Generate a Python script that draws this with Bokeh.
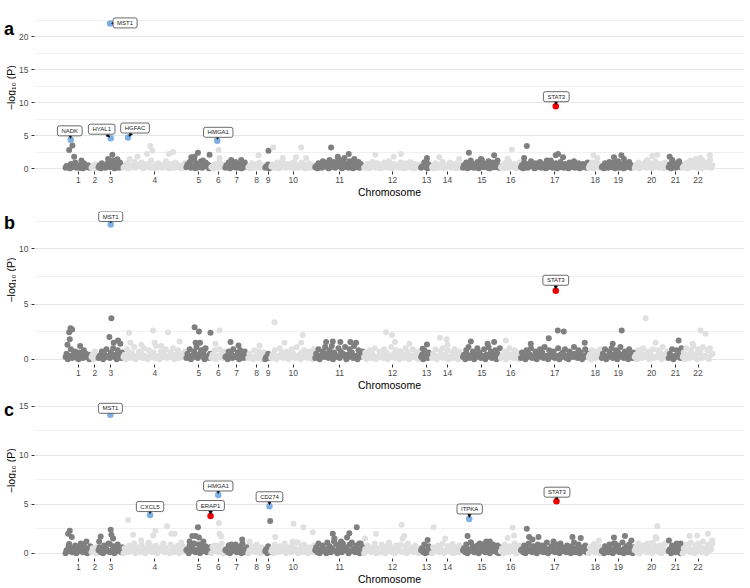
import math
import numpy as np
from bokeh.plotting import figure
from bokeh.models import (Range1d, FixedTicker, SingleIntervalTicker, Label, Arrow,
                          NormalHead, ColumnDataSource)
from bokeh.core.properties import value
from bokeh.layouts import column, row
from bokeh.embed import file_html
from bokeh.resources import INLINE

FONT = "Liberation Sans"
DARK = "#7f7f7f"
LIGHT = "#e0e0e0"
HIT_COLORS = {"reported": "#7eb0e3", "novel": "#f20000"}

# ---------------- data ----------------
chrom_names = [str(i) for i in range(1, 23)]
# relative genomic span of each chromosome (arbitrary cumulative units)
chrom_len = [26, 7, 25, 63, 25, 14, 23, 17, 6, 44, 49, 57, 11, 31, 38, 20, 68, 13, 33, 34, 14, 31]

# background -log10(P) values along each chromosome, panel a (upper and lower rows)
a_band = [
    [0.4, 0.2, 0.7, 0.3, 0.9, 0.5, 0.1, 0.6, 0.8, 0.3, 0.5, 0.2],
    [0.3, 0.6, 0.2],
    [0.5, 0.8, 0.3, 0.6, 1.0, 0.4, 1.2, 0.7, 0.2, 0.9, 0.4],
    [0.3, 0.8, 0.5, 0.2, 1.0, 0.6, 0.4, 0.9, 0.1, 0.7, 0.5, 1.2, 0.3, 0.6, 0.8, 0.2, 0.5, 1.1, 0.4, 0.7, 0.3, 0.9, 0.6, 0.2, 0.5, 0.8],
    [0.6, 1.0, 0.4, 1.3, 0.8, 0.5, 1.1, 0.3, 0.9, 0.6, 0.4],
    [0.3, 0.7, 0.5, 1.0, 0.4, 0.6],
    [0.5, 0.9, 0.3, 0.7, 1.0, 0.4, 0.8, 0.6, 0.9, 0.3],
    [0.4, 0.8, 0.3, 0.6, 0.9, 0.2, 0.5],
    [0.3, 0.6, 0.4],
    [0.6, 0.3, 0.9, 0.5, 1.1, 0.4, 0.7, 0.2, 0.8, 1.0, 0.5, 0.3, 0.9, 0.6, 0.4, 0.8, 0.2, 0.5],
    [0.4, 0.8, 0.6, 1.1, 0.3, 0.9, 1.3, 0.5, 1.0, 0.7, 1.4, 0.6, 1.2, 0.8, 0.4, 1.1, 0.9, 1.3, 0.5, 1.0, 0.7, 0.3],
    [0.3, 0.7, 0.5, 1.0, 0.2, 0.8, 0.6, 0.4, 0.9, 0.3, 1.1, 0.5, 0.7, 0.2, 0.6, 0.9, 0.4, 0.8, 0.3, 1.0, 0.5, 0.7, 0.2, 0.6],
    [0.3, 0.9, 1.2, 0.6, 0.4],
    [0.4, 0.8, 0.3, 0.6, 1.0, 0.5, 0.2, 0.9, 0.7, 0.4, 0.8, 0.3, 0.6],
    [0.5, 0.9, 0.3, 1.2, 0.7, 0.4, 1.0, 0.6, 1.3, 0.8, 0.5, 1.1, 0.3, 0.9, 0.6, 1.2, 0.4],
    [0.4, 0.8, 0.6, 1.0, 0.3, 0.7, 0.5, 0.9],
    [0.5, 0.9, 0.3, 0.7, 1.1, 0.4, 0.8, 0.6, 1.0, 0.3, 0.7, 1.2, 0.5, 0.9, 0.4, 0.8, 0.6, 1.0, 0.3, 0.7, 0.5, 0.9, 0.4, 1.1, 0.6, 0.8, 0.3, 0.7, 0.5, 0.9],
    [0.5, 0.9, 0.3, 1.0, 0.6, 0.4],
    [0.4, 0.8, 0.6, 1.0, 0.3, 0.9, 0.5, 1.1, 0.7, 0.4, 0.8, 0.6, 1.0, 0.5, 0.3],
    [0.5, 0.9, 0.3, 0.7, 1.0, 0.4, 0.8, 0.6, 1.1, 0.3, 0.7, 0.5, 0.9, 0.4],
    [0.6, 1.0, 0.4, 0.8, 1.1, 0.5],
    [0.4, 0.8, 1.0, 0.5, 0.9, 0.3, 1.1, 0.7, 1.2, 0.6, 0.9, 1.3, 0.5],
]
a_low = [
    [0.1, 0.3, 0.0, 0.2, 0.4, 0.1, 0.3, 0.2, 0.0, 0.4, 0.2, 0.1],
    [0.1, 0.4, 0.0],
    [0.2, 0.0, 0.4, 0.1, 0.3, 0.2, 0.5, 0.0, 0.3, 0.1, 0.2],
    [0.1, 0.3, 0.0, 0.4, 0.2, 0.1, 0.5, 0.3, 0.0, 0.2, 0.4, 0.1, 0.3, 0.0, 0.2, 0.4, 0.1, 0.3, 0.2, 0.0, 0.4, 0.1, 0.3, 0.2, 0.0, 0.1],
    [0.2, 0.4, 0.1, 0.3, 0.0, 0.5, 0.2, 0.1, 0.4, 0.3, 0.0],
    [0.2, 0.0, 0.3, 0.1, 0.4, 0.2],
    [0.1, 0.3, 0.0, 0.4, 0.2, 0.1, 0.3, 0.0, 0.2, 0.4],
    [0.2, 0.0, 0.3, 0.1, 0.4, 0.1, 0.2],
    [0.1, 0.2, 0.0],
    [0.3, 0.1, 0.4, 0.0, 0.2, 0.3, 0.1, 0.5, 0.2, 0.0, 0.3, 0.1, 0.4, 0.2, 0.0, 0.3, 0.1, 0.2],
    [0.2, 0.0, 0.4, 0.1, 0.5, 0.3, 0.0, 0.2, 0.6, 0.1, 0.3, 0.4, 0.0, 0.2, 0.5, 0.1, 0.3, 0.0, 0.4, 0.2, 0.1, 0.3],
    [0.1, 0.3, 0.0, 0.2, 0.4, 0.1, 0.3, 0.0, 0.2, 0.5, 0.1, 0.3, 0.0, 0.4, 0.2, 0.1, 0.3, 0.0, 0.2, 0.4, 0.1, 0.0, 0.3, 0.2],
    [0.1, 0.4, 0.2, 0.0, 0.3],
    [0.2, 0.0, 0.4, 0.1, 0.3, 0.0, 0.2, 0.4, 0.1, 0.3, 0.0, 0.2, 0.1],
    [0.1, 0.3, 0.0, 0.5, 0.2, 0.1, 0.4, 0.0, 0.3, 0.2, 0.6, 0.1, 0.0, 0.4, 0.2, 0.3, 0.1],
    [0.2, 0.0, 0.3, 0.1, 0.4, 0.2, 0.0, 0.3],
    [0.2, 0.0, 0.4, 0.1, 0.3, 0.5, 0.0, 0.2, 0.4, 0.1, 0.3, 0.0, 0.2, 0.5, 0.1, 0.3, 0.0, 0.4, 0.2, 0.1, 0.3, 0.0, 0.5, 0.2, 0.1, 0.4, 0.0, 0.3, 0.2, 0.1],
    [0.1, 0.3, 0.0, 0.2, 0.4, 0.1],
    [0.2, 0.0, 0.3, 0.1, 0.4, 0.2, 0.0, 0.5, 0.1, 0.3, 0.0, 0.2, 0.4, 0.1, 0.2],
    [0.1, 0.3, 0.0, 0.4, 0.2, 0.1, 0.3, 0.0, 0.2, 0.5, 0.1, 0.3, 0.0, 0.2],
    [0.2, 0.0, 0.3, 0.1, 0.4, 0.2],
    [0.1, 0.3, 0.0, 0.4, 0.2, 0.5, 0.1, 0.3, 0.0, 0.4, 0.2, 0.6, 0.1],
]
# higher background points: (chromosome, position within chromosome, -log10 P)
a_peaks = [
    (1, 3.7, 2.8), (1, 7, 3.5), (1, 8.7, 1.8), (1, 16, 1.2),
    (3, 14, 2.1), (3, 9.7, 1.45), (3, 19, 1.4),
    (4, 27, 3.4), (4, 29, 2.7), (4, 14, 1.8), (4, 23.7, 2.2), (4, 45.7, 2.2), (4, 49.7, 2.5), (4, 6.3, 1.45),
    (5, 11.7, 2.4), (5, 5, 1.7), (5, 8.3, 1.8), (5, 16.7, 1.2), (5, 23.3, 2.1),
    (6, 7.3, 2.8), (6, 8.3, 1.6),
    (7, 6, 1.3), (7, 16, 1.3),
    (8, 10.3, 2.0),
    (9, 3.3, 2.7),
    (10, 2, 3.2), (10, 30, 3.2), (10, 11.7, 1.6), (10, 25, 1.7), (10, 35, 1.6),
    (11, 16, 3.2), (11, 33.7, 2.2), (11, 22.7, 1.8), (11, 29.3, 1.6), (11, 39.3, 1.45),
    (12, 11.3, 2.1), (12, 29.7, 1.8), (12, 37, 2.2),
    (13, 6, 1.6),
    (14, 7.3, 1.7), (14, 27.3, 1.45),
    (15, 6, 2.4), (15, 31.3, 2.0), (15, 18, 1.45),
    (16, 11, 2.9), (16, 6.7, 1.5),
    (17, 6, 3.4), (17, 3.3, 1.6), (17, 37.3, 2.2), (17, 35, 2.0), (17, 42.3, 1.7), (17, 30, 1.2),
    (18, 4.7, 2.0), (18, 8.7, 1.6),
    (19, 12.3, 1.7), (19, 19.7, 2.0), (19, 22.3, 1.45),
    (20, 17.7, 1.9), (20, 22.7, 2.1), (20, 12.7, 1.3),
    (21, 1, 1.8), (21, 3.7, 1.3),
    (22, 27.3, 2.0), (22, 18, 1.6), (22, 13, 1.45), (22, 8, 1.2),
]
# lead variants: (gene, chromosome, position within chromosome, -log10 P, group)
a_hits = [
    ("NADK", 1, 5.3, 4.35, "reported"),
    ("MST1", 3, 11.7, 22.0, "reported"),
    ("HYAL1", 3, 12.3, 4.6, "reported"),
    ("HGFAC", 4, 4.7, 4.7, "reported"),
    ("HMGA1", 6, 6.0, 4.2, "reported"),
    ("STAT3", 17, 35.0, 9.45, "novel"),
]

b_band = [
    [0.5, 0.2, 0.9, 0.4, 0.7, 0.1, 0.6, 0.3, 0.8, 0.5, 0.2, 0.4],
    [0.4, 0.7, 0.2],
    [0.3, 0.7, 0.5, 0.9, 0.2, 0.6, 1.0, 0.4, 0.8, 0.3, 0.6],
    [0.4, 0.9, 0.2, 0.6, 1.1, 0.3, 0.7, 0.5, 1.0, 0.2, 0.8, 0.4, 0.6, 1.2, 0.3, 0.7, 0.5, 0.9, 0.2, 0.6, 1.0, 0.4, 0.8, 0.3, 0.5, 0.7],
    [0.5, 0.9, 0.3, 0.7, 1.1, 0.4, 0.8, 0.6, 1.0, 0.3, 0.5],
    [0.4, 0.8, 0.3, 0.9, 0.5, 0.7],
    [0.3, 0.7, 0.5, 0.9, 0.2, 0.6, 0.8, 0.4, 0.7, 0.3],
    [0.5, 0.2, 0.8, 0.4, 0.7, 0.3, 0.6],
    [0.2, 0.5, 0.3],
    [0.4, 0.8, 0.3, 1.0, 0.6, 0.2, 0.7, 0.5, 0.9, 0.3, 1.1, 0.4, 0.6, 0.8, 0.2, 0.7, 0.5, 0.9],
    [0.5, 0.9, 0.3, 0.7, 1.1, 0.4, 0.8, 1.2, 0.6, 0.3, 1.0, 0.7, 0.5, 1.1, 0.4, 0.9, 0.6, 1.2, 0.3, 0.8, 0.5, 0.7],
    [0.6, 0.3, 0.8, 0.5, 1.0, 0.2, 0.7, 0.4, 0.9, 0.6, 0.3, 1.1, 0.5, 0.8, 0.2, 0.7, 0.4, 1.0, 0.6, 0.3, 0.9, 0.5, 0.7, 0.4],
    [0.4, 0.8, 0.2, 0.6, 0.3],
    [0.5, 0.9, 0.3, 0.7, 1.0, 0.4, 0.8, 0.2, 0.6, 0.9, 0.4, 0.7, 0.3],
    [0.4, 0.8, 1.1, 0.3, 0.7, 0.5, 1.0, 0.6, 0.2, 0.9, 0.4, 1.1, 0.7, 0.3, 0.8, 0.5, 1.0],
    [0.3, 0.7, 0.5, 1.0, 0.4, 0.8, 0.6, 0.2],
    [0.6, 0.3, 0.8, 0.5, 1.0, 0.2, 0.7, 0.4, 0.9, 0.6, 1.1, 0.3, 0.8, 0.5, 0.7, 0.2, 1.0, 0.4, 0.6, 0.9, 0.3, 0.7, 0.5, 1.1, 0.4, 0.8, 0.6, 0.3, 0.9, 0.5],
    [0.4, 0.8, 0.3, 0.7, 0.5, 0.9],
    [0.5, 0.9, 0.3, 0.7, 1.0, 0.4, 0.8, 0.6, 1.1, 0.3, 0.7, 0.5, 0.9, 0.4, 0.6],
    [0.4, 0.8, 0.6, 1.0, 0.3, 0.7, 0.5, 0.9, 0.2, 0.8, 0.6, 1.1, 0.4, 0.7],
    [0.5, 0.9, 0.3, 0.8, 0.6, 1.0],
    [0.6, 1.0, 0.4, 0.8, 1.2, 0.5, 0.9, 0.7, 1.1, 0.3, 0.8, 1.0, 0.5],
]
b_low = [
    [0.2, 0.0, 0.3, 0.1, 0.4, 0.2, 0.0, 0.3, 0.1, 0.2, 0.4, 0.0],
    [0.2, 0.0, 0.3],
    [0.1, 0.4, 0.0, 0.2, 0.3, 0.1, 0.4, 0.2, 0.0, 0.3, 0.1],
    [0.2, 0.0, 0.4, 0.1, 0.3, 0.0, 0.2, 0.4, 0.1, 0.3, 0.0, 0.2, 0.5, 0.1, 0.3, 0.0, 0.2, 0.4, 0.1, 0.3, 0.2, 0.0, 0.4, 0.1, 0.2, 0.3],
    [0.1, 0.3, 0.0, 0.4, 0.2, 0.1, 0.5, 0.3, 0.0, 0.2, 0.1],
    [0.1, 0.3, 0.0, 0.2, 0.4, 0.1],
    [0.2, 0.0, 0.4, 0.1, 0.3, 0.2, 0.0, 0.4, 0.1, 0.2],
    [0.1, 0.3, 0.0, 0.2, 0.1, 0.4, 0.0],
    [0.0, 0.2, 0.1],
    [0.1, 0.3, 0.0, 0.2, 0.4, 0.1, 0.3, 0.0, 0.2, 0.5, 0.1, 0.3, 0.0, 0.2, 0.4, 0.1, 0.3, 0.0],
    [0.1, 0.3, 0.0, 0.4, 0.2, 0.5, 0.1, 0.3, 0.0, 0.4, 0.2, 0.1, 0.5, 0.3, 0.0, 0.2, 0.4, 0.1, 0.3, 0.0, 0.2, 0.4],
    [0.2, 0.0, 0.4, 0.1, 0.3, 0.0, 0.2, 0.4, 0.1, 0.3, 0.0, 0.2, 0.4, 0.1, 0.3, 0.0, 0.2, 0.1, 0.4, 0.0, 0.3, 0.2, 0.1, 0.0],
    [0.2, 0.0, 0.3, 0.1, 0.2],
    [0.1, 0.3, 0.0, 0.2, 0.4, 0.1, 0.3, 0.0, 0.2, 0.1, 0.4, 0.0, 0.2],
    [0.2, 0.0, 0.4, 0.1, 0.3, 0.0, 0.2, 0.5, 0.1, 0.3, 0.0, 0.2, 0.4, 0.1, 0.3, 0.0, 0.2],
    [0.1, 0.3, 0.0, 0.2, 0.4, 0.1, 0.3, 0.0],
    [0.1, 0.3, 0.0, 0.2, 0.4, 0.1, 0.3, 0.0, 0.2, 0.5, 0.1, 0.3, 0.0, 0.4, 0.2, 0.1, 0.3, 0.0, 0.2, 0.4, 0.1, 0.0, 0.3, 0.2, 0.5, 0.1, 0.3, 0.0, 0.2, 0.4],
    [0.2, 0.0, 0.3, 0.1, 0.2, 0.4],
    [0.1, 0.3, 0.0, 0.2, 0.4, 0.1, 0.3, 0.0, 0.2, 0.4, 0.1, 0.3, 0.0, 0.2, 0.1],
    [0.2, 0.0, 0.3, 0.1, 0.4, 0.2, 0.0, 0.3, 0.1, 0.2, 0.4, 0.0, 0.3, 0.1],
    [0.1, 0.3, 0.0, 0.2, 0.4, 0.1],
    [0.2, 0.0, 0.4, 0.1, 0.3, 0.2, 0.0, 0.5, 0.1, 0.3, 0.2, 0.0, 0.4],
]
b_peaks = [
    (1, 3.7, 2.45), (1, 5, 2.8), (1, 6.7, 2.7), (1, 4.3, 1.8), (1, 2, 1.3), (1, 14.7, 1.2),
    (3, 13, 3.7), (3, 11, 2.0), (3, 15.3, 1.5), (3, 19.7, 1.7), (3, 22, 1.4),
    (4, 5.7, 2.4), (4, 7, 1.5), (4, 29.7, 2.6), (4, 31.3, 1.5), (4, 44.7, 2.45), (4, 56.3, 1.6), (4, 18, 1.3), (4, 38, 1.2),
    (5, 8.3, 2.9), (5, 12.7, 2.5), (5, 9.3, 1.5), (5, 13.7, 1.5), (5, 18.3, 0.9), (5, 24.3, 2.4),
    (6, 8.3, 2.6), (6, 4.3, 1.4),
    (7, 5.3, 1.55), (7, 13.3, 1.25),
    (8, 11.3, 1.25),
    (10, 3.3, 3.35), (10, 31.7, 2.2), (10, 13.3, 1.5), (10, 30, 1.5),
    (11, 11, 1.55), (11, 17.7, 1.6), (11, 25.3, 1.55), (11, 35.3, 1.55), (11, 41, 1.5),
    (12, 22, 2.45), (12, 28, 2.2), (12, 31, 1.55), (12, 45.3, 1.4),
    (13, 6, 1.33), (13, 1.7, 0.95),
    (14, 8, 1.95), (14, 14.7, 1.8), (14, 15.7, 1.3),
    (15, 8, 1.6), (15, 24.7, 1.4), (15, 31.3, 1.55),
    (16, 5, 1.7),
    (17, 37, 2.6), (17, 43, 2.5), (17, 28, 1.9), (17, 64, 1.5), (17, 10, 1.4),
    (19, 20, 2.6), (19, 11, 1.4),
    (20, 11, 3.7), (20, 21, 1.5),
    (21, 10, 1.7),
    (22, 18, 2.6), (22, 23, 2.3), (22, 10, 1.4),
]
b_hits = [
    ("MST1", 3, 12.3, 12.2, "reported"),
    ("STAT3", 17, 35.0, 6.2, "novel"),
]

c_band = [
    [0.3, 0.7, 0.5, 0.1, 0.8, 0.4, 0.6, 0.2, 0.9, 0.5, 0.3, 0.7],
    [0.5, 0.2, 0.6],
    [0.6, 0.3, 0.8, 0.4, 1.0, 0.2, 0.7, 0.5, 0.9, 0.3, 0.6],
    [0.5, 0.2, 0.8, 0.4, 1.0, 0.6, 0.3, 0.9, 0.5, 0.2, 1.1, 0.7, 0.4, 0.8, 0.3, 0.6, 1.0, 0.5, 0.2, 0.9, 0.6, 0.4, 0.8, 0.3, 0.7, 0.5],
    [0.4, 0.8, 0.6, 1.0, 0.3, 0.9, 0.5, 1.2, 0.7, 0.4, 0.6],
    [0.6, 0.3, 0.8, 0.5, 1.0, 0.4],
    [0.4, 0.8, 0.6, 0.3, 0.9, 0.5, 0.7, 1.0, 0.4, 0.6],
    [0.3, 0.7, 0.5, 0.9, 0.2, 0.6, 0.4],
    [0.4, 0.7, 0.3],
    [0.5, 0.9, 0.3, 0.7, 0.4, 1.0, 0.6, 0.2, 0.8, 0.5, 1.1, 0.3, 0.7, 0.9, 0.4, 0.6, 0.3, 0.8],
    [0.6, 1.0, 0.4, 0.8, 0.3, 1.1, 0.7, 0.5, 1.2, 0.9, 0.4, 0.7, 1.0, 0.6, 0.3, 0.9, 1.1, 0.5, 0.8, 0.4, 1.0, 0.6],
    [0.4, 0.8, 0.3, 0.6, 1.0, 0.5, 0.2, 0.9, 0.7, 0.4, 1.1, 0.6, 0.3, 0.8, 0.5, 0.9, 0.2, 0.7, 1.0, 0.4, 0.6, 0.8, 0.3, 0.5],
    [0.5, 0.9, 0.3, 0.7, 0.4],
    [0.6, 0.3, 0.8, 0.5, 1.0, 0.2, 0.7, 0.4, 0.9, 0.6, 0.3, 0.8, 0.5],
    [0.5, 0.9, 0.4, 1.1, 0.7, 0.3, 0.8, 1.0, 0.6, 0.4, 1.2, 0.7, 0.5, 0.9, 0.3, 0.8, 0.6],
    [0.5, 0.9, 0.3, 0.7, 0.4, 1.0, 0.6, 0.8],
    [0.4, 0.8, 0.6, 1.0, 0.3, 0.7, 0.5, 0.9, 0.2, 0.8, 0.6, 1.1, 0.4, 0.7, 0.3, 0.9, 0.5, 1.0, 0.6, 0.2, 0.8, 0.4, 0.7, 1.1, 0.5, 0.9, 0.3, 0.6, 0.8, 0.4],
    [0.6, 0.3, 0.9, 0.5, 0.7, 0.4],
    [0.3, 0.7, 0.5, 0.9, 0.4, 1.0, 0.6, 0.8, 0.3, 1.1, 0.5, 0.7, 0.9, 0.4, 0.6],
    [0.6, 1.0, 0.4, 0.8, 0.3, 0.9, 0.5, 1.1, 0.7, 0.4, 0.8, 0.6, 1.0, 0.3],
    [0.4, 0.8, 0.6, 1.0, 0.5, 0.7],
    [0.5, 0.9, 0.7, 1.1, 0.4, 0.8, 1.0, 0.6, 1.2, 0.5, 0.9, 0.7, 1.0],
]
c_low = [
    [0.0, 0.2, 0.4, 0.1, 0.3, 0.0, 0.2, 0.4, 0.1, 0.3, 0.0, 0.2],
    [0.1, 0.3, 0.0],
    [0.3, 0.1, 0.0, 0.4, 0.2, 0.1, 0.3, 0.0, 0.2, 0.4, 0.1],
    [0.0, 0.3, 0.1, 0.2, 0.4, 0.0, 0.2, 0.1, 0.3, 0.0, 0.4, 0.2, 0.1, 0.3, 0.0, 0.2, 0.4, 0.1, 0.3, 0.0, 0.2, 0.1, 0.4, 0.0, 0.3, 0.2],
    [0.3, 0.0, 0.2, 0.4, 0.1, 0.3, 0.0, 0.2, 0.5, 0.1, 0.3],
    [0.0, 0.2, 0.4, 0.1, 0.3, 0.0],
    [0.3, 0.1, 0.0, 0.2, 0.4, 0.1, 0.3, 0.0, 0.2, 0.1],
    [0.0, 0.2, 0.4, 0.1, 0.3, 0.0, 0.2],
    [0.2, 0.0, 0.1],
    [0.2, 0.0, 0.3, 0.1, 0.4, 0.2, 0.0, 0.3, 0.1, 0.2, 0.4, 0.0, 0.3, 0.1, 0.2, 0.0, 0.4, 0.1],
    [0.3, 0.1, 0.0, 0.4, 0.2, 0.0, 0.5, 0.1, 0.3, 0.2, 0.0, 0.4, 0.1, 0.3, 0.5, 0.0, 0.2, 0.4, 0.1, 0.3, 0.0, 0.2],
    [0.0, 0.2, 0.4, 0.1, 0.3, 0.0, 0.2, 0.1, 0.4, 0.0, 0.3, 0.2, 0.1, 0.0, 0.4, 0.2, 0.1, 0.3, 0.0, 0.2, 0.4, 0.1, 0.3, 0.0],
    [0.3, 0.1, 0.0, 0.2, 0.1],
    [0.0, 0.2, 0.4, 0.1, 0.3, 0.0, 0.2, 0.4, 0.1, 0.0, 0.3, 0.1, 0.2],
    [0.3, 0.1, 0.0, 0.2, 0.4, 0.1, 0.3, 0.0, 0.2, 0.5, 0.1, 0.3, 0.0, 0.2, 0.4, 0.1, 0.0],
    [0.2, 0.0, 0.3, 0.1, 0.2, 0.4, 0.0, 0.1],
    [0.3, 0.1, 0.0, 0.2, 0.4, 0.1, 0.3, 0.0, 0.5, 0.2, 0.1, 0.3, 0.0, 0.2, 0.4, 0.1, 0.3, 0.0, 0.2, 0.4, 0.1, 0.3, 0.0, 0.2, 0.1, 0.4, 0.0, 0.3, 0.2, 0.1],
    [0.0, 0.2, 0.4, 0.1, 0.3, 0.0],
    [0.2, 0.0, 0.4, 0.1, 0.3, 0.0, 0.2, 0.4, 0.1, 0.3, 0.0, 0.2, 0.1, 0.4, 0.0],
    [0.3, 0.1, 0.0, 0.2, 0.4, 0.1, 0.3, 0.0, 0.2, 0.4, 0.1, 0.0, 0.3, 0.2],
    [0.2, 0.0, 0.4, 0.1, 0.3, 0.0],
    [0.0, 0.2, 0.4, 0.1, 0.3, 0.0, 0.2, 0.5, 0.1, 0.3, 0.0, 0.2, 0.4],
]
c_peaks = [
    (1, 4.3, 2.3), (1, 2.7, 2.0), (1, 6.3, 1.65), (1, 3.7, 0.95), (1, 15.3, 1.0), (1, 21, 1.2),
    (3, 2.3, 1.7), (3, 0.7, 1.2), (3, 12.3, 2.4), (3, 13, 1.9), (3, 14.7, 1.5), (3, 11.3, 0.95),
    (4, 4.7, 3.4), (4, 9.7, 1.9), (4, 18, 1.3), (4, 32, 2.3), (4, 29.7, 1.8), (4, 43.7, 2.75), (4, 48, 2.0), (4, 51.3, 2.0), (4, 58, 1.1), (4, 24.7, 0.9),
    (5, 11.7, 2.65), (5, 6, 1.75), (5, 9.3, 1.75), (5, 12.7, 1.6), (5, 3.3, 1.2), (5, 15, 0.8),
    (6, 7.7, 3.1), (6, 8.3, 2.0), (6, 10, 1.7), (6, 3.3, 0.8),
    (7, 17, 1.4), (7, 6, 0.9),
    (8, 1.3, 1.2),
    (9, 5, 3.3),
    (10, 4, 1.65), (10, 22.3, 3.0), (10, 32.3, 2.65), (10, 41.7, 2.15), (10, 21.7, 1.2), (10, 26.7, 1.1),
    (11, 17.7, 2.0), (11, 19.3, 1.5), (11, 34.3, 2.05), (11, 32, 1.6), (11, 41.7, 2.65), (11, 44.3, 1.0), (11, 26, 1.2),
    (12, 1, 1.5), (12, 12, 2.0), (12, 37.7, 2.9), (12, 40.3, 1.75), (12, 38.7, 1.5), (12, 25.3, 0.95),
    (13, 6.7, 1.35),
    (14, 1.7, 2.65), (14, 13.3, 1.5), (14, 20.7, 0.95),
    (15, 4.7, 1.75), (15, 8, 1.1), (15, 27, 1.2), (15, 21.3, 0.95),
    (16, 11.7, 2.6), (16, 13.3, 1.8), (16, 6.7, 1.55),
    (17, 6, 2.5), (17, 8.3, 1.65), (17, 11.7, 1.4), (17, 17.7, 1.65), (17, 32.7, 1.2), (17, 51.7, 1.65), (17, 60, 1.55),
    (18, 10.3, 1.3), (18, 5.3, 0.95),
    (19, 12.3, 1.6), (19, 23.3, 1.75), (19, 13.3, 1.0), (19, 29.7, 1.3),
    (20, 22.7, 2.75), (20, 21, 1.65), (20, 22, 1.5), (20, 12.7, 1.0),
    (21, 0.3, 1.3), (21, 12, 1.0),
    (22, 7, 1.75), (22, 14.7, 1.8), (22, 25.3, 2.0), (22, 29.7, 1.3),
]
c_hits = [
    ("MST1", 3, 12.0, 14.15, "reported"),
    ("CXCL5", 4, 26.7, 3.9, "reported"),
    ("ERAP1", 5, 24.3, 3.8, "novel"),
    ("HMGA1", 6, 7.0, 5.95, "reported"),
    ("CD274", 9, 4.3, 4.8, "reported"),
    ("ITPKA", 15, 6.3, 3.5, "reported"),
    ("STAT3", 17, 35.7, 5.3, "novel"),
]

# ---------------- styling ----------------
# label box offset from its variant, in pixels (dx right, dy up)
a_label_offsets = {"MST1": (15, 0.5), "NADK": (-1, 9), "HYAL1": (-9, 9), "HGFAC": (7, 9.5),
                   "HMGA1": (1, 8.5), "STAT3": (0.5, 9.5)}
b_label_offsets = {"MST1": (0, 8), "STAT3": (0, 10.5)}
c_label_offsets = {"MST1": (0, 6.5), "CXCL5": (0, 8.5), "HMGA1": (0, 9), "ERAP1": (0, 10.5),
                   "CD274": (0, 9.5), "ITPKA": (0.5, 10), "STAT3": (0.5, 9.2)}

SIDE_W = 16
W = 750 - SIDE_W
BL, BR, BB = 17, 6, 30
X_RANGE = (-31, 680)

chrom_start = np.concatenate([[0], np.cumsum(chrom_len)[:-1]]).astype(float)
chrom_center = chrom_start + np.array(chrom_len, dtype=float) / 2.0


def build_points(band, low, peaks):
    xs, ys, cs = [], [], []
    for ci in range(len(chrom_len)):
        pts = []
        n = len(band[ci])
        pts += [(chrom_start[ci] + (i + 0.5) * chrom_len[ci] / n, v) for i, v in enumerate(band[ci])]
        m = len(low[ci])
        pts += [(chrom_start[ci] + (i + 0.05) * chrom_len[ci] / m, v) for i, v in enumerate(low[ci])]
        pts += [(chrom_start[ci] + pos, v) for (c, pos, v) in peaks if c == ci + 1]
        col = DARK if ci % 2 == 0 else LIGHT
        for x, y in pts:
            xs.append(x)
            ys.append(y)
            cs.append(col)
    return ColumnDataSource(dict(x=xs, y=ys, color=cs))


def make_panel(letter, band, low, peaks, hits, offsets, y_range, height, b_top, letter_base):
    p = figure(width=W, height=height, output_backend="svg", toolbar_location=None,
               x_range=Range1d(*X_RANGE), y_range=Range1d(*y_range),
               min_border_left=BL, min_border_right=BR, min_border_top=b_top,
               min_border_bottom=BB)
    p.outline_line_color = None
    p.background_fill_color = "white"
    p.border_fill_color = "white"

    # axes
    p.xaxis.ticker = FixedTicker(ticks=list(chrom_center))
    p.xaxis.major_label_overrides = {float(c): n for c, n in zip(chrom_center, chrom_names)}
    p.yaxis.ticker = SingleIntervalTicker(interval=5, num_minor_ticks=2)
    for ax in (p.xaxis, p.yaxis):
        ax.axis_line_color = None
        ax.major_tick_line_color = "#333333"
        ax.major_tick_in = 0
        ax.major_tick_out = 3
        ax.minor_tick_line_color = None
        ax.major_label_text_font = FONT
        ax.major_label_text_font_size = "8.5px"
        ax.major_label_text_color = "#4d4d4d"
        ax.axis_label_text_font = FONT
        ax.axis_label_text_font_style = "normal"
        ax.axis_label_text_color = "black"
    p.xaxis.axis_label = "Chromosome"
    p.xaxis.axis_label_text_font_size = "10.5px"
    p.xaxis.major_label_standoff = 2
    p.xaxis.axis_label_standoff = 0
    p.yaxis.major_label_standoff = 2

    p.xgrid.grid_line_color = None
    p.ygrid.grid_line_color = "#e6e6e6"
    p.ygrid.grid_line_width = 1
    p.ygrid.minor_grid_line_color = "#f0f0f0"
    p.ygrid.minor_grid_line_width = 1

    src = build_points(band, low, peaks)
    p.scatter("x", "y", source=src, size=6, fill_color="color", line_color=None)

    hx = [chrom_start[c - 1] + pos for (_, c, pos, _, _) in hits]
    hy = [v for (_, _, _, v, _) in hits]
    hc = [HIT_COLORS[g] for (_, _, _, _, g) in hits]
    p.scatter(hx, hy, size=6.5, fill_color=hc, line_color=None)

    fw = W - BL - BR
    fh = height - b_top - BB
    px_x = fw / (X_RANGE[1] - X_RANGE[0])
    px_y = fh / (y_range[1] - y_range[0])

    for (gene, c, pos, val, grp), x in zip(hits, hx):
        dx, dy = offsets[gene]
        hw = len(gene) * 1.75 + 4.0
        hh = 5.5
        tx = hw / abs(dx) if dx else math.inf
        ty = hh / abs(dy) if dy else math.inf
        t = min(tx, ty, 1.0)
        sxp, syp = dx * (1 - t), dy * (1 - t)
        d = math.hypot(dx, dy)
        exp_, eyp = 1.5 * dx / d, 1.5 * dy / d
        if math.hypot(sxp - exp_, syp - eyp) > 0.8:
            p.add_layout(Arrow(end=NormalHead(size=3.5, fill_color="black", line_color="black",
                                              line_width=0.6),
                               x_start=x + sxp / px_x, y_start=val + syp / px_y,
                               x_end=x + exp_ / px_x, y_end=val + eyp / px_y,
                               line_color="black", line_width=0.8))
        p.add_layout(Label(x=x, y=val, x_offset=dx, y_offset=dy, text=gene,
                           text_font=FONT, text_font_size="6px", text_color="#222222",
                           text_align="center", text_baseline="middle",
                           background_fill_color="white", border_line_color="#444444",
                           border_line_width=0.8, padding=(4, 2), border_radius=2))

    # side strip with the panel letter and the y-axis title (pixel coordinates)
    side = figure(width=SIDE_W, height=height, output_backend="svg", toolbar_location=None,
                  x_range=Range1d(0, SIDE_W), y_range=Range1d(0, height),
                  x_axis_location=None, y_axis_location=None,
                  min_border_left=0, min_border_right=0, min_border_top=0, min_border_bottom=0)
    side.outline_line_color = None
    side.grid.visible = False
    side.text(x=[3.5], y=[height - letter_base], text=[letter], text_font=value(FONT),
              text_font_size=value("18px"), text_font_style="bold", text_color="black",
              text_align="left", text_baseline="alphabetic")
    side.text(x=[10.5], y=[height - (b_top + fh / 2.0)], text=["\u2212log\u2081\u2080 (P)"],
              angle=math.pi / 2, text_font=value(FONT), text_font_size=value("10.5px"),
              text_color="black", text_align="center", text_baseline="middle")
    return row(side, p, spacing=0)


pa = make_panel("a", a_band, a_low, a_peaks, a_hits, a_label_offsets, (-0.45, 23.2), 201, 15, 18)
pb = make_panel("b", b_band, b_low, b_peaks, b_hits, b_label_offsets, (-0.48, 13.38), 193, 10, 15)
pc = make_panel("c", c_band, c_low, c_peaks, c_hits, c_label_offsets, (-0.54, 15.51), 194, 7, 10)

layout = column(pa, pb, pc, spacing=0)
open("out.html", "w").write(file_html(layout, INLINE))
